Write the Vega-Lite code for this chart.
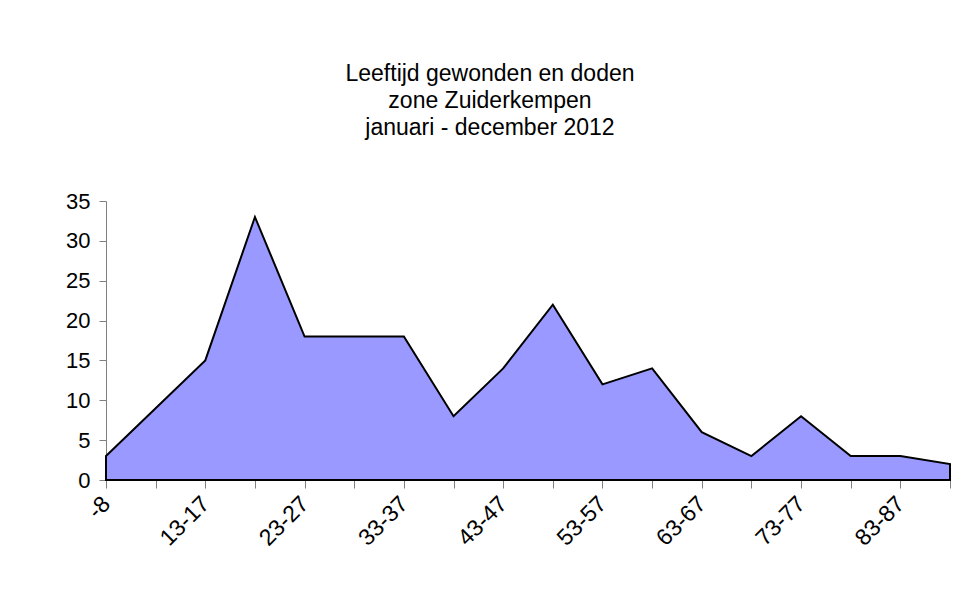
{
  "$schema": "https://vega.github.io/schema/vega-lite/v6.json",
  "width": 844,
  "height": 279,
  "autosize": {"type": "none"},
  "padding": {"left": 106, "top": 201, "right": 26, "bottom": 114},
  "background": "white",
  "title": {
    "text": ["Leeftijd gewonden en doden", "zone Zuiderkempen", "januari - december 2012"],
    "font": "Liberation Sans",
    "fontSize": 23,
    "fontWeight": "normal",
    "color": "black",
    "lineHeight": 27,
    "anchor": "middle",
    "dx": -38,
    "offset": 50
  },
  "config": {
    "view": {"stroke": null},
    "axis": {
      "labelFont": "Liberation Sans",
      "labelFontSize": 22,
      "labelColor": "black",
      "domainColor": "#808080",
      "tickColor": "#808080",
      "grid": false,
      "title": null
    }
  },
  "data": {
    "values": [
      {"leeftijd": "-8", "aantal": 3},
      {"leeftijd": "8-12", "aantal": 9},
      {"leeftijd": "13-17", "aantal": 15},
      {"leeftijd": "18-22", "aantal": 33},
      {"leeftijd": "23-27", "aantal": 18},
      {"leeftijd": "28-32", "aantal": 18},
      {"leeftijd": "33-37", "aantal": 18},
      {"leeftijd": "38-42", "aantal": 8},
      {"leeftijd": "43-47", "aantal": 14},
      {"leeftijd": "48-52", "aantal": 22},
      {"leeftijd": "53-57", "aantal": 12},
      {"leeftijd": "58-62", "aantal": 14},
      {"leeftijd": "63-67", "aantal": 6},
      {"leeftijd": "68-72", "aantal": 3},
      {"leeftijd": "73-77", "aantal": 8},
      {"leeftijd": "78-82", "aantal": 3},
      {"leeftijd": "83-87", "aantal": 3},
      {"leeftijd": "88+", "aantal": 2}
    ]
  },
  "mark": {"type": "area", "color": "#9999FF", "stroke": "black", "strokeWidth": 2, "strokeJoin": "miter", "opacity": 1, "fillOpacity": 1},
  "encoding": {
    "x": {
      "field": "leeftijd",
      "type": "ordinal",
      "sort": null,
      "scale": {"type": "point", "padding": 0},
      "axis": {
        "labelAngle": -45,
        "labelAlign": "right",
        "labelBaseline": "middle",
        "labelPadding": 12,
        "labelFontSize": 23,
        "tickSize": 8,
        "labelExpr": "indexof(['-8','13-17','23-27','33-37','43-47','53-57','63-67','73-77','83-87'], datum.value) >= 0 ? datum.label : ''"
      }
    },
    "y": {
      "field": "aantal",
      "type": "quantitative",
      "scale": {"domain": [0, 35], "nice": false},
      "axis": {"values": [0, 5, 10, 15, 20, 25, 30, 35], "tickSize": 7, "labelPadding": 9}
    }
  }
}
